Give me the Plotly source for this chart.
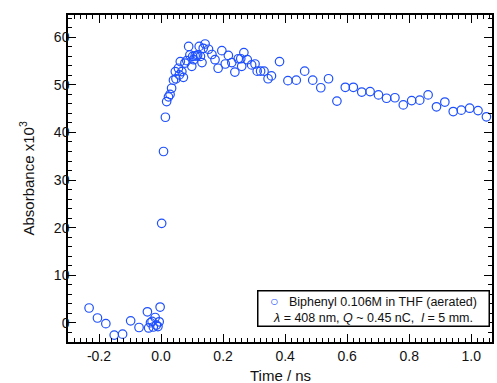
import plotly.graph_objects as go

time_ns = [
    -0.232, -0.205, -0.178, -0.151, -0.124, -0.098, -0.071, -0.044,
    -0.040, -0.034, -0.029, -0.025, -0.019, -0.015, -0.010, -0.006, -0.003,
    0.002, 0.008, 0.014, 0.018, 0.024, 0.029, 0.034, 0.040, 0.046, 0.048,
    0.056, 0.059, 0.062, 0.067, 0.072, 0.077, 0.083, 0.089, 0.093, 0.099,
    0.102, 0.105, 0.110, 0.115, 0.118, 0.123, 0.127, 0.132, 0.136, 0.142,
    0.153, 0.164, 0.174, 0.184, 0.196, 0.207, 0.217, 0.228, 0.238, 0.249,
    0.257, 0.260, 0.267, 0.278, 0.292, 0.303, 0.310, 0.321, 0.332, 0.345,
    0.356, 0.382, 0.409, 0.436, 0.463, 0.489, 0.515, 0.540, 0.567, 0.594,
    0.620, 0.647, 0.674, 0.701, 0.727, 0.754, 0.781, 0.808, 0.834, 0.861,
    0.888, 0.915, 0.942, 0.968, 0.995, 1.022, 1.049,
]
absorbance_x1e3 = [
    3.1, 1.0, -0.2, -2.6, -2.4, 0.4, -1.0, 2.3,
    -1.1, 0.0, 0.3, -0.9, 1.1, -0.5, -0.8, 0.2, 3.3,
    20.9, 36.0, 43.2, 46.5, 47.5, 48.0, 49.3, 51.0, 52.8, 51.3,
    53.5, 52.1, 54.9, 52.8, 51.6, 54.6, 55.1, 58.1, 56.3, 53.9,
    56.0, 55.3, 56.1, 56.1, 56.3, 58.1, 56.0, 54.7, 57.7, 58.6,
    57.5, 56.4, 55.3, 53.5, 57.2, 54.4, 56.2, 54.7, 52.7, 55.5,
    55.5, 53.9, 56.8, 55.3, 54.2, 54.4, 52.9, 52.9, 52.9, 51.3,
    51.9, 54.9, 50.9, 51.0, 52.9, 51.0, 49.4, 51.3, 46.6, 49.5,
    49.5, 48.5, 48.6, 47.9, 47.2, 47.3, 45.8, 46.7, 46.8, 47.9,
    45.4, 46.4, 44.4, 44.7, 45.1, 44.6, 43.3,
]

x_ticks = [-0.2, 0.0, 0.2, 0.4, 0.6, 0.8, 1.0]
x_tick_labels = ["-0.2", "0.0", "0.2", "0.4", "0.6", "0.8", "1.0"]
y_ticks = [0, 10, 20, 30, 40, 50, 60]
y_tick_labels = ["0", "10", "20", "30", "40", "50", "60"]

series_name = "Biphenyl 0.106M in THF (aerated)"
conditions = "<i>λ</i> = 408 nm, <i>Q</i> ~ 0.45 nC,  <i>l</i> = 5 mm."

BLUE = "rgb(30,80,255)"
FONT = "Liberation Sans, Arial, sans-serif"

fig = go.Figure()
fig.add_trace(go.Scatter(
    x=time_ns, y=absorbance_x1e3, mode="markers", name=series_name,
    marker=dict(symbol="circle-open", size=8.5, color=BLUE, line=dict(width=1.2, color=BLUE)),
    showlegend=False,
))

axis_common = dict(
    showline=True, linecolor="black", linewidth=1.5, mirror="ticks",
    ticks="inside", tickcolor="black", tickwidth=1, ticklen=8,
    showgrid=False, zeroline=False,
    tickfont=dict(family=FONT, size=14, color="#111"),
)

fig.update_xaxes(
    range=[-0.3, 1.067], tickvals=x_ticks, ticktext=x_tick_labels,
    minor=dict(dtick=0.02, tick0=0, ticks="inside", ticklen=4, tickcolor="black", tickwidth=1),
    **axis_common,
)
fig.update_yaxes(
    range=[-4.05, 64.7], tickvals=y_ticks, ticktext=y_tick_labels,
    minor=dict(dtick=2, tick0=0, ticks="inside", ticklen=4, tickcolor="black", tickwidth=1),
    ticklabelstandoff=-6,
    **axis_common,
)

fig.add_annotation(
    xref="paper", yref="paper", x=0, y=0.5, xshift=-41, xanchor="center", yanchor="middle",
    text="Absorbance x10<sup>3</sup>", textangle=-90, showarrow=False,
    font=dict(family=FONT, size=15, color="#111"),
)
fig.add_annotation(
    xref="paper", yref="paper", x=0.5, y=0, yshift=-33, xanchor="center", yanchor="middle",
    text="Time / ns", showarrow=False,
    font=dict(family=FONT, size=15, color="#111"),
)
fig.add_annotation(
    xref="paper", yref="paper", x=1, y=0, xshift=-2.5, yshift=15.3,
    xanchor="right", yanchor="bottom", align="center", width=228,
    text=("<span style='color:" + BLUE + ";font-size:14px'>○</span>   " + series_name + "<br>" + conditions),
    showarrow=False, bordercolor="black", borderwidth=1.5, borderpad=1, bgcolor="white",
    font=dict(family=FONT, size=12.5, color="#111"),
)

fig.update_layout(
    width=497, height=383,
    margin=dict(l=68, r=3, t=15, b=41),
    paper_bgcolor="white", plot_bgcolor="white",
    font=dict(family=FONT),
)

fig.write_html(
    "out.html",
    config={"displayModeBar": False},
    post_script="document.body.style.margin='0';document.body.style.overflow='hidden';",
)
